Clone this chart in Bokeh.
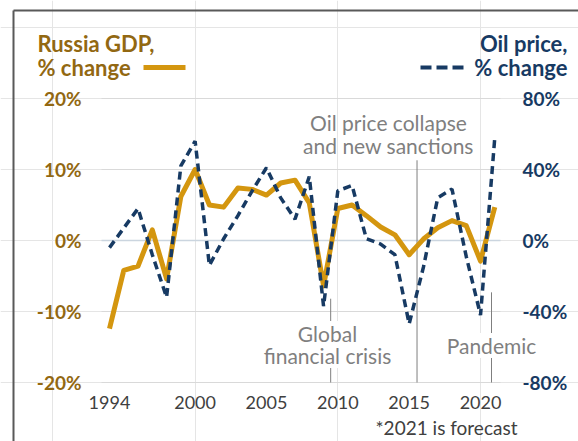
from bokeh.plotting import figure
from bokeh.models import Range1d, Label, ColumnDataSource
from bokeh.core.properties import value
from bokeh.embed import file_html
from bokeh.resources import INLINE

# ---- data ----
years = list(range(1994, 2022))
gdp = [-12.4, -4.2, -3.6, 1.5, -5.4, 6.2, 10.0, 5.0, 4.7, 7.4, 7.2, 6.4, 8.1, 8.5,
       5.3, -6.4, 4.5, 5.0, 3.5, 1.9, 0.8, -2.0, 0.2, 1.8, 2.8, 2.1, -2.9, 4.7]
oil = [-4, 7, 18, -8, -32, 42, 56, -14, 1, 14, 28, 41, 24, 12, 36, -37, 28, 31,
       1, -2, -8, -47, -15, 24, 29, -9, -42, 58]
x_ticks = [1994, 2000, 2005, 2010, 2015, 2020]
gdp_ticks = [-20, -10, 0, 10, 20]
oil_ticks = [-80, -40, 0, 40, 80]
event_years = [2009.5, 2015.55, 2020.77]
event_tops = [-8.2, 11.3, -7.3]

GOLD = "#d4960f"
GOLD_TXT = "#926812"
NAVY = "#173a63"
GRAY = "#7f7f7f"
DARK = "#404040"
FONT = "Lato"

W, H = 578, 441
# layout helpers: pixel position -> plot coordinates
X0, X0PX, PXYR = 1994, 109.0, 14.27
Y0PX, PXPCT = 240.0, 7.1
def xd(px):
    return X0 + (px - X0PX) / PXYR
def yd(py):
    return (Y0PX - py) / PXPCT

x_lo, x_hi = xd(101), xd(500)   # plot area extent
y_lo, y_hi = -20, 20

p = figure(width=W, height=H, output_backend="svg", toolbar_location=None,
           x_range=Range1d(xd(0), xd(W)), y_range=Range1d(yd(H), yd(0)),
           x_axis_location=None, y_axis_location=None, min_border=0)
p.outline_line_color = None
p.background_fill_color = "white"
p.border_fill_color = "white"
p.extra_y_ranges = {"oil": Range1d(4 * yd(H), 4 * yd(0))}

# gridlines
grid_color = ["#cbd5df" if t == 0 else "#d9d9d9" for t in gdp_ticks]
p.segment(x0=[x_lo] * len(gdp_ticks), x1=[x_hi] * len(gdp_ticks),
          y0=gdp_ticks, y1=gdp_ticks, line_color=grid_color,
          line_width=[1.5 if t == 0 else 1 for t in gdp_ticks])

# tick labels (left: GDP, right: oil, bottom: years)
p.text(x=[xd(81)] * len(gdp_ticks), y=gdp_ticks, text=[f"{t}%" for t in gdp_ticks],
       text_align="right", text_baseline="middle", text_color=GOLD_TXT,
       text_font=value(FONT), text_font_style="bold", text_font_size="19px")
p.text(x=[xd(522)] * len(oil_ticks), y=oil_ticks, text=[f"{t}%" for t in oil_ticks],
       y_range_name="oil", text_align="left", text_baseline="middle", text_color=NAVY,
       text_font=value(FONT), text_font_style="bold", text_font_size="19px")
p.text(x=x_ticks, y=[yd(402)] * len(x_ticks), text=[str(t) for t in x_ticks],
       text_align="center", text_baseline="middle", text_color=DARK,
       text_font=value(FONT), text_font_size="18px")

# event lines
p.segment(x0=event_years, x1=event_years, y0=event_tops, y1=[y_lo] * 3,
          line_color=GRAY, line_width=1)

# series
src = ColumnDataSource(dict(year=years, gdp=gdp, oil=oil))
p.line("year", "gdp", source=src, line_color=GOLD, line_width=5, line_join="round")
p.line("year", "oil", source=src, y_range_name="oil", line_color=NAVY,
       line_width=3.5, line_dash="8 5")

def lab(text, px, py, color, size, align="left", bold=False, bg=None):
    l = Label(x=xd(px), y=yd(py), text=text, text_color=color, text_font=FONT,
              text_font_size=size, text_align=align, text_baseline="middle",
              text_font_style="bold" if bold else "normal")
    if bg:
        l.background_fill_color = bg
    p.add_layout(l)

# headers with legend keys
lab("Russia GDP,", 37, 43, GOLD_TXT, "22px", bold=True)
lab("% change", 37, 67, GOLD_TXT, "22px", bold=True)
p.line([xd(143), xd(185)], [yd(67), yd(67)], line_color=GOLD, line_width=5)
lab("Oil price,", 567, 43, NAVY, "22px", align="right", bold=True)
lab("% change", 567, 67, NAVY, "22px", align="right", bold=True)
p.line([xd(420), xd(464)], [yd(67), yd(67)], line_color=NAVY, line_width=4,
       line_dash="11 5")

# annotations
lab("Oil price collapse", 388, 122, GRAY, "21px", align="center")
lab("and new sanctions", 388, 145, GRAY, "21px", align="center")
lab("Global", 327, 333, GRAY, "21px", align="center", bg="white")
lab("financial crisis", 327, 355, GRAY, "21px", align="center", bg="white")
lab("Pandemic", 491, 345, GRAY, "21px", align="center", bg="white")
lab("*2021 is forecast", 446, 427, DARK, "19px", align="center")

# chart border (top and left)
p.line([xd(13), xd(W)], [yd(10), yd(10)], line_color="#595959", line_width=2)
p.line([xd(13), xd(13)], [yd(10), yd(H)], line_color="#595959", line_width=2)

open("out.html", "w").write(file_html(p, INLINE))
